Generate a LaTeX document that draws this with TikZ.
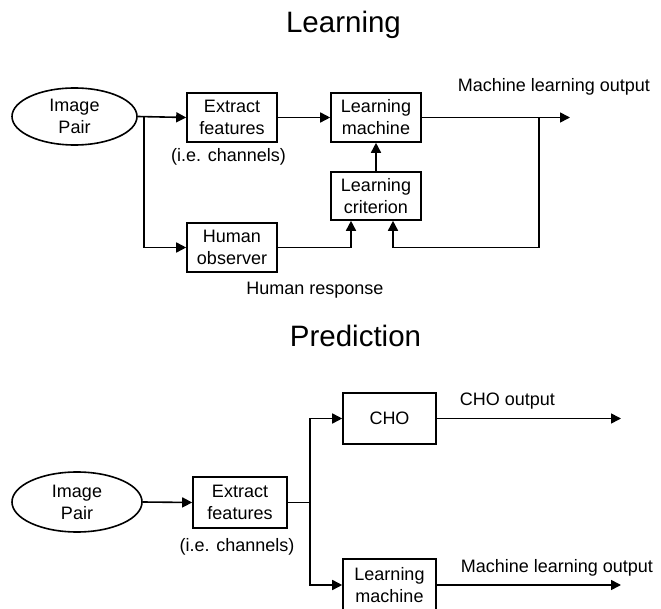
\documentclass[tikz,border=0pt]{standalone}
\usepackage{fontspec}
\setmainfont{Liberation Sans}
\usetikzlibrary{arrows.meta,shapes.geometric}

\begin{document}
\begin{tikzpicture}[x=1pt,y=-1pt,
  line width=1.6pt,
  every node/.style={font=\fontsize{18}{22}\selectfont, inner sep=0pt},
  block/.style={draw, rectangle, align=center, minimum width=90pt, minimum height=49pt},
  oval/.style={draw, ellipse, align=center},
  title/.style={font=\fontsize{29.5}{32}\selectfont, anchor=base},
  lbl/.style={anchor=base},
  flow/.style={-{Triangle[length=10pt,width=10pt]}}
]
\useasboundingbox (0,0) rectangle (661,609);

% ---------------- Learning ----------------
\node[title] (tlearn) at (343.5,33) {Learning};

\node[oval, minimum width=125pt, minimum height=57pt] (img1) at (74.5,116.5) {Image\\Pair};
\node[block] (ext1) at (232,117.5) {Extract\\features};
\node[lbl] (ch1) at (228.5,162) {(i.e. channels)};
\node[block] (lm1) at (376,117.5) {Learning\\machine};
\node[block, minimum height=48pt] (lc1) at (376,196) {Learning\\criterion};
\node[block] (ho1) at (232,247.5) {Human\\observer};
\node[lbl] (hr) at (315,295) {Human response};
\node[lbl, anchor=base west] (mlo1) at (457,92) {Machine learning output};

\coordinate (b1) at (144,117.5);
\coordinate (out1) at (570,117.5);
\coordinate (fb) at (539,117.5);

\draw[flow] (img1.east) -- (ext1.west);
\draw[flow] (b1) |- (ho1.west);
\draw[flow] (ext1.east) -- (lm1.west);
\draw[flow] (lc1.north) -- (lm1.south);
\draw[flow] (lm1.east) -- (out1);
\draw[flow] (ho1.east) -| ([xshift=-25pt]lc1.south);
\draw[flow] (fb) |- (393,247.5) -- ([xshift=17pt]lc1.south);

% ---------------- Prediction ----------------
\node[title] (tpred) at (355.5,347) {Prediction};

\node[oval, minimum width=130pt, minimum height=60pt] (img2) at (77,502) {Image\\Pair};
\node[block, minimum width=94pt, minimum height=51pt] (ext2) at (240,502.5) {Extract\\features};
\node[lbl] (ch2) at (237,551) {(i.e. channels)};
\node[block, minimum width=93pt, minimum height=51pt] (cho) at (389.5,418.5) {CHO};
% this box runs past the lower page edge
\node[block, minimum width=93pt, minimum height=52pt] (lm2) at (389.5,585) {Learning\\machine};
\node[lbl, anchor=base west] (choo) at (459,405) {CHO output};
\node[lbl, anchor=base west] (mlo2) at (460,572) {Machine learning output};

\coordinate (b2) at (310,502.5);
\coordinate (out2) at (621,418.5);
\coordinate (out3) at (621,585);

\draw[flow] (img2.east) -- (ext2.west);
\draw (ext2.east) -- (b2);
\draw[flow] (b2) |- (cho.west);
\draw[flow] (b2) |- (lm2.west);
\draw[flow] (cho.east) -- (out2);
\draw[flow] (lm2.east) -- (out3);
\end{tikzpicture}
\end{document}
